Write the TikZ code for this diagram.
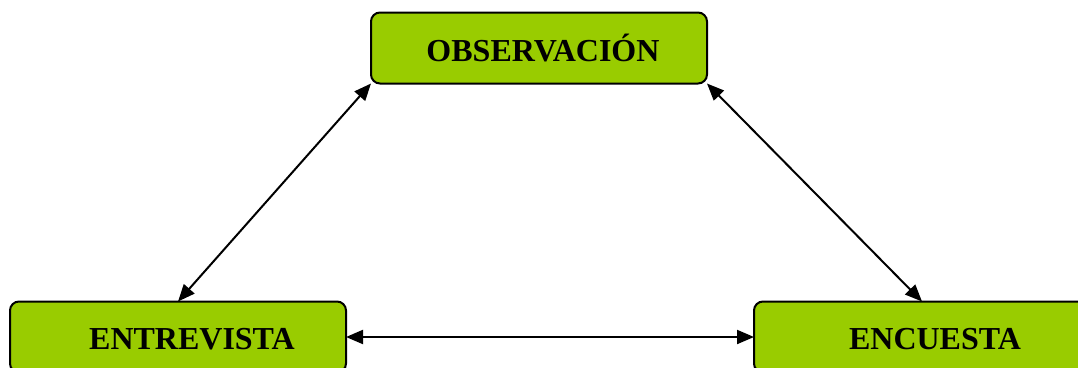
\documentclass[tikz,border=0pt]{standalone}
\usepackage{fontspec}
\setmainfont{Liberation Serif}
\usetikzlibrary{arrows.meta}
\definecolor{boxgreen}{HTML}{99CC00}
\tikzset{
  box/.style={draw=black, line width=2pt, fill=boxgreen, rounded corners=9pt,
    minimum width=336pt, minimum height=71pt, inner sep=0pt, outer sep=0pt},
  lbl/.style={font=\fontsize{32}{36}\selectfont\bfseries, inner sep=0pt},
  link/.style={line width=2pt, {Triangle[length=17pt,width=14pt]}-{Triangle[length=17pt,width=14pt]}}
}
\begin{document}
\begin{tikzpicture}[x=1pt,y=-1pt]
\useasboundingbox (0,0) rectangle (1078,367);
\clip (0,0) rectangle (1078,367);
\node[box] (obs) at (539,48) {};
\node[lbl] (tobs) at ([xshift=4pt]obs.center) {OBSERVACIÓN};
\node[box] (ent) at (178,337) {};
\node[lbl] (tent) at ([xshift=14pt,yshift=-2pt]ent.center) {ENTREVISTA};
\node[box] (enc) at (922,337) {};
\node[lbl] (tenc) at ([xshift=13pt,yshift=-2pt]enc.center) {ENCUESTA};
\draw[link] (obs.south west) -- (ent.north);
\draw[link] (obs.south east) -- (enc.north);
\draw[link] (ent.east) -- (enc.west);
\end{tikzpicture}
\end{document}
